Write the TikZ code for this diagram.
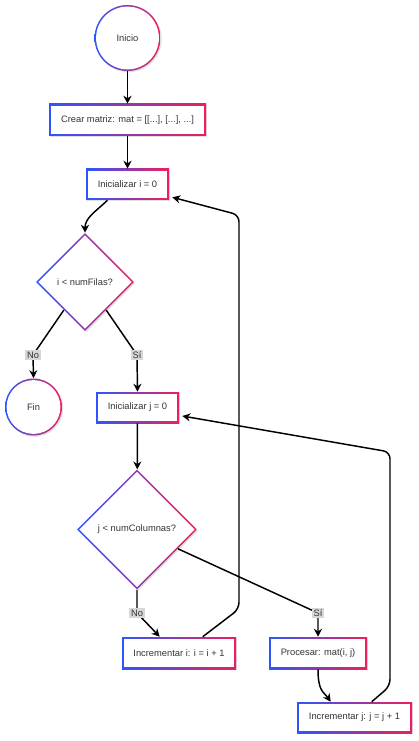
\documentclass[tikz,border=0pt]{standalone}
\usepackage{fontspec}
\setmainfont{Liberation Sans}
\usetikzlibrary{shapes.geometric,arrows.meta,calc,shadows}
\definecolor{gblue}{RGB}{45,85,255}
\definecolor{gred}{RGB}{240,30,90}
\definecolor{txt}{RGB}{51,51,51}
\definecolor{lblbg}{RGB}{215,215,215}
\begin{document}
\begin{tikzpicture}[x=0.75pt,y=-0.75pt,
  every node/.style={font=\fontsize{7}{8.4}\selectfont, text=txt},
  shadowed/.style={drop shadow={shadow xshift=0.9pt,shadow yshift=-0.9pt,opacity=0.12,fill=black}},
  gbox/.style 2 args={rectangle, inner sep=0pt, minimum width=#1, minimum height=#2, shadowed,
    path picture={
      \shade[left color=gblue,right color=gred] (path picture bounding box.south west) rectangle (path picture bounding box.north east);
      \fill[white] ([shift={(1.2pt,1.2pt)}]path picture bounding box.south west) rectangle ([shift={(-1.2pt,-1.2pt)}]path picture bounding box.north east);
    }},
  gcirc/.style={circle, inner sep=0pt, minimum size=#1, shadowed,
    path picture={
      \shade[left color=gblue,right color=gred] (path picture bounding box.south west) rectangle (path picture bounding box.north east);
      \fill[white] (path picture bounding box.center) circle[radius=#1/2-1.2pt];
    }},
  gdiam/.style={diamond, aspect=1, inner sep=0pt, minimum width=#1, minimum height=#1, shadowed,
    path picture={
      \shade[left color=gblue,right color=gred] (path picture bounding box.south west) rectangle (path picture bounding box.north east);
      \fill[white] ([xshift=1.7pt]path picture bounding box.west) -- ([yshift=-1.7pt]path picture bounding box.north) -- ([xshift=-1.7pt]path picture bounding box.east) -- ([yshift=1.7pt]path picture bounding box.south) -- cycle;
    }},
  arr/.style={draw=black, line width=1.1pt, -{Stealth[length=6pt,width=6pt]}},
  lbl/.style={fill=lblbg, inner sep=1.2pt, text=txt}
]
\fill[white] (0,0) rectangle (418,741);

% nodes
\node[gcirc=49.5pt] (inicio) at (127.5,38) {Inicio};
\node[gbox={117.75pt}{24pt}] (crear) at (127.5,120) {Crear matriz: mat = [[...], [...], ...]};
\node[gbox={62.25pt}{23.25pt}] (ii) at (127.5,184.5) {Inicializar i = 0};
\node[gdiam=73.5pt] (dI) at (85,282) {i < numFilas?};
\node[gcirc=42.75pt] (fin) at (33.5,407) {Fin};
\node[gbox={62.25pt}{23.25pt}] (ij) at (137.5,407.5) {Inicializar j = 0};
\node[gdiam=90pt] (dJ) at (137,529.5) {j < numColumnas?};
\node[gbox={85.5pt}{24pt}] (inci) at (179,653) {Incrementar i: i = i + 1};
\node[gbox={73.5pt}{24pt}] (proc) at (318,653) {Procesar: mat(i, j)};
\node[gbox={86.25pt}{23.25pt}] (incj) at (354.5,717.5) {Incrementar j: j = j + 1};

% label positions
\coordinate (lno1) at (33,355);
\coordinate (lsi1) at (137,355);
\coordinate (lno2) at (137,613);
\coordinate (lsi2) at (318,613);

% edges
\draw[arr] (inicio) -- (crear);
\draw[arr] (crear) -- (ii);
\draw[arr] ($(ii.south)+(-20,0)$) .. controls (95,212) and (85,218) .. (dI.north);
\draw[arr] ($(dI.west)!0.57!(dI.south)$) -- (lno1) -- (fin.north);
\draw[arr] ($(dI.south)!0.43!(dI.east)$) -- (lsi1) -- (ij.north);
\draw[arr] (ij) -- (dJ);
\draw[arr] (dJ.south) -- (lno2) -- ($(inci.north west)+(38,0)$);
\draw[arr] ($(dJ.south)!0.68!(dJ.east)$) -- (lsi2) -- (proc.north);
\draw[arr] (proc.south) .. controls (318,692) and (324,692) .. ($(incj.north west)+(34,0)$);
\draw[arr, rounded corners=5pt] ($(inci.north west)+(81,0)$) -- (239,609) -- (239,215) -- ($(ii.south east)+(3,-3)$);
\draw[arr, rounded corners=5pt] ($(incj.north west)+(75,0)$) -- (390,686) -- (390,452) -- ($(ij.east)+(3,8.5)$);

% labels
\node[lbl] (tno1) at (lno1) {No};
\node[lbl] (tsi1) at (lsi1) {Sí};
\node[lbl] (tno2) at (lno2) {No};
\node[lbl] (tsi2) at (lsi2) {Sí};
\end{tikzpicture}
\end{document}
